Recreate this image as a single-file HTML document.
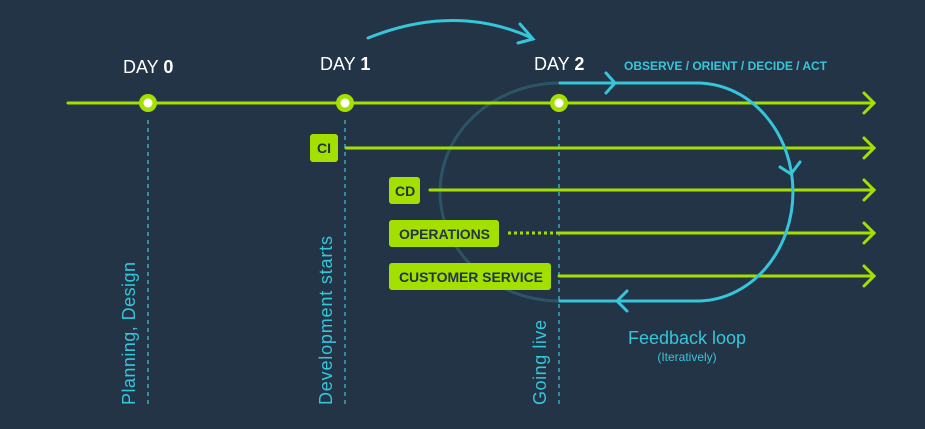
<!DOCTYPE html>
<html><head><meta charset="utf-8"><style>
html,body{margin:0;padding:0;background:#243447;}
svg{display:block}
text{font-family:"Liberation Sans",Arial,sans-serif}
</style></head><body>
<svg width="925" height="429" viewBox="0 0 925 429" xmlns="http://www.w3.org/2000/svg">
<rect width="925" height="429" fill="#243447"/>
<path d="M560 83 A120 109 0 0 0 560 301" fill="none" stroke="#2b5566" stroke-width="3"/>
<g stroke="#3fc6dc" stroke-width="1.2" stroke-dasharray="4 4">
<line x1="148" y1="120" x2="148" y2="405"/>
<line x1="345" y1="120" x2="345" y2="405"/>
<line x1="559" y1="120" x2="559" y2="405"/>
</g>
<g stroke="#a3e000" stroke-width="3" fill="none" stroke-linecap="round">
<line x1="68" y1="103" x2="874" y2="103"/>
<polyline points="864,93 874,103 864,113"/>
<line x1="346" y1="148" x2="874" y2="148"/>
<polyline points="864,138 874,148 864,158"/>
<line x1="430" y1="190" x2="874" y2="190"/>
<polyline points="864,180 874,190 864,200"/>
<line x1="559" y1="233" x2="874" y2="233"/>
<polyline points="864,223 874,233 864,243"/>
<line x1="559" y1="276" x2="874" y2="276"/>
<polyline points="864,266 874,276 864,286"/>
</g>
<line x1="508" y1="233" x2="558" y2="233" stroke="#a3e000" stroke-width="3" stroke-dasharray="3 3"/>
<g stroke="#36c6da" stroke-width="3" fill="none" stroke-linecap="round">
<path d="M560 83 H697 A96 109 0 0 1 697 301 H560"/>
<polyline points="606,73 615,83 606,93"/>
<polyline points="780,167 791,174 800,162"/>
<polyline points="627,291 617,301 627,311"/>
<path d="M368 38 Q455 3 532 38"/>
<polyline points="520,24 533,39 518,43"/>
</g>
<g>
<circle cx="148" cy="103" r="9" fill="#a3e000"/><circle cx="148" cy="103" r="4.5" fill="#fff"/>
<circle cx="345" cy="103" r="9" fill="#a3e000"/><circle cx="345" cy="103" r="4.5" fill="#fff"/>
<circle cx="559" cy="103" r="9" fill="#a3e000"/><circle cx="559" cy="103" r="4.5" fill="#fff"/>
</g>
<g fill="#ffffff" font-size="18">
<text x="123" y="73">DAY <tspan font-weight="bold">0</tspan></text>
<text x="320" y="70">DAY <tspan font-weight="bold">1</tspan></text>
<text x="534" y="70">DAY <tspan font-weight="bold">2</tspan></text>
</g>
<text x="624" y="70" fill="#36c6da" font-size="12" font-weight="bold" textLength="203">OBSERVE / ORIENT / DECIDE / ACT</text>
<g fill="#a3e000">
<rect x="310" y="134" width="28" height="28" rx="3"/>
<rect x="389" y="177" width="31" height="27" rx="3"/>
<rect x="389" y="220" width="110" height="27" rx="3"/>
<rect x="389" y="263" width="162" height="27" rx="3"/>
</g>
<g fill="#243447" font-size="14" font-weight="bold">
<text x="317" y="153">CI</text>
<text x="395" y="196">CD</text>
<text x="399" y="239" textLength="91">OPERATIONS</text>
<text x="399" y="282" textLength="144">CUSTOMER SERVICE</text>
</g>
<g fill="#36c6da" font-size="18">
<text transform="translate(135,405) rotate(-90)" textLength="143">Planning, Design</text>
<text transform="translate(332,405) rotate(-90)" textLength="169">Development starts</text>
<text transform="translate(546,405) rotate(-90)" textLength="85">Going live</text>
</g>
<text x="687" y="344" fill="#36c6da" font-size="18" text-anchor="middle">Feedback loop</text>
<text x="687" y="361" fill="#36c6da" font-size="12" text-anchor="middle">(Iteratively)</text>
</svg>
</body></html>
